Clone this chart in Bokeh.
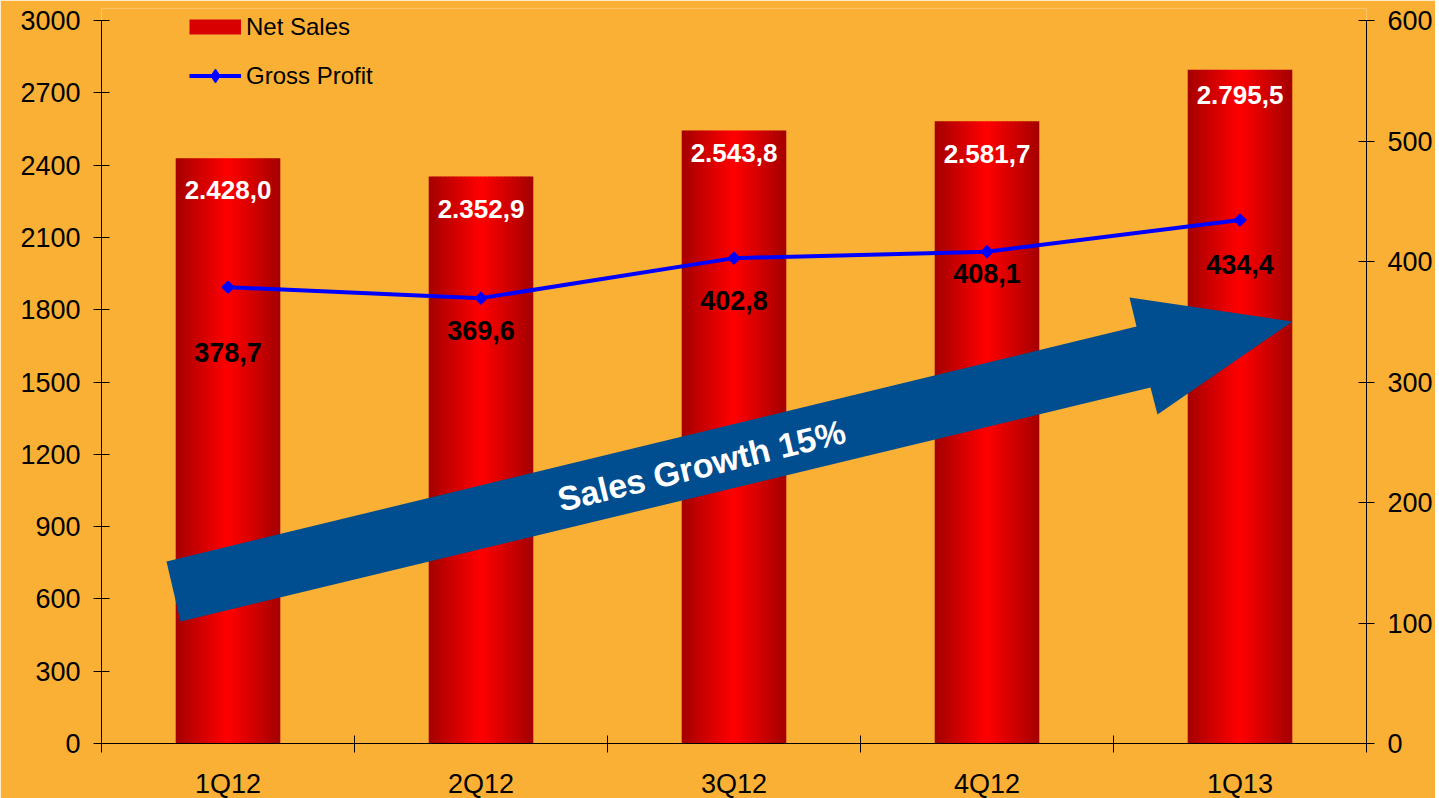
import math
from bokeh.plotting import figure
from bokeh.models import Range1d, LinearAxis, FixedTicker, ColumnDataSource, Legend, LegendItem
from bokeh.core.properties import value
from bokeh.embed import file_html
from bokeh.resources import INLINE

# ---------------- data ----------------
quarters = ["1Q12", "2Q12", "3Q12", "4Q12", "1Q13"]
net_sales = [2428.0, 2352.9, 2543.8, 2581.7, 2795.5]
gross_profit = [378.7, 369.6, 402.8, 408.1, 434.4]
left_ticks = [0, 300, 600, 900, 1200, 1500, 1800, 2100, 2400, 2700, 3000]
right_ticks = [0, 100, 200, 300, 400, 500, 600]
arrow_label = "Sales Growth 15%"

# ---------------- style ----------------
BG = "#FAB034"
FONT = "Liberation Sans"
BAR_W = 0.411
N_STRIPS = 26
ns_label_dy = [32, 33, 23, 33, 25]     # px below bar top
gp_label_dy = [65, 32, 42, 22, 44]     # px below point
FRAME_L, FRAME_T, FRAME_W = 101, 8, 1265   # page px
AXIS_BOTTOM, AXIS_H = 743, 723              # px for the 0..3000 span
FRAME_H = AXIS_BOTTOM - FRAME_T
LEFT_MAX, RIGHT_MAX = 3000.0, 600.0


def fmt(v):
    s = f"{v:,.1f}"
    return s.replace(",", "X").replace(".", ",").replace("X", ".")


def page_to_data(px, py):
    return (-0.5 + (px - FRAME_L) / FRAME_W * 5.0,
            (AXIS_BOTTOM - py) / AXIS_H * LEFT_MAX)


def strip_color(t):
    r = int(round(255 - (255 - 165) * t))
    return "#%02x0000" % r


p = figure(x_range=Range1d(-0.5, 4.5), y_range=Range1d(0, LEFT_MAX * FRAME_H / AXIS_H),
           frame_width=FRAME_W, frame_height=FRAME_H,
           min_border_left=FRAME_L, min_border_right=65, min_border_top=FRAME_T, min_border_bottom=54,
           output_backend="svg", toolbar_location=None,
           background_fill_color=BG, border_fill_color=BG, outline_line_color=None)
p.xgrid.visible = False
p.ygrid.visible = False

# ---------------- bars (gradient strips) ----------------
sw = BAR_W / N_STRIPS
bx, btop, bcol = [], [], []
for i, v in enumerate(net_sales):
    for k in range(N_STRIPS):
        off = -BAR_W / 2 + (k + 0.5) * sw
        t = abs(off) / (BAR_W / 2)
        bx.append(i + off)
        btop.append(v)
        bcol.append(strip_color(t))
bars = p.vbar(x="x", top="top", bottom=0, width=sw * 1.15, fill_color="c", line_color=None,
              source=ColumnDataSource(dict(x=bx, top=btop, c=bcol)))
# legend-only proxies (placed outside the visible range)
legend_bar = p.line(x=[-10, -9], y=[1, 1], line_width=15, line_color="#D80000", line_cap="butt")
legend_dia = p.scatter(x=[-10], y=[1], marker="diamond", size=15, fill_color="#0000FF",
                       line_color="#0000FF")

# ---------------- arrow ----------------
arrow_px = [(166, 561), (1136, 326), (1129, 297), (1292, 321), (1157, 414), (1150, 387), (180, 621)]
ax, ay = zip(*[page_to_data(*pt) for pt in arrow_px])
p.patch(list(ax), list(ay), fill_color="#004E8F", line_color=None)
tx, ty = page_to_data(701, 465)
p.text(x=[tx], y=[ty], text=[arrow_label], angle=math.atan2(235, 970),
       text_color="white", text_font=value(FONT), text_font_style="bold",
       text_font_size="34px", text_align="center", text_baseline="middle")

# ---------------- gross profit line ----------------
p.extra_y_ranges = {"right": Range1d(0, RIGHT_MAX * FRAME_H / AXIS_H)}
xs = list(range(len(quarters)))
gl = p.line(xs, gross_profit, y_range_name="right", line_color="#0000FF", line_width=4)
gm = p.scatter(xs, gross_profit, y_range_name="right", marker="square", angle=math.pi / 4,
               size=9, fill_color="#0000FF", line_color="#0000FF")

# ---------------- value labels ----------------
p.text(x=xs, y=net_sales, text=[fmt(v) for v in net_sales], y_offset=ns_label_dy,
       text_color="white", text_font=value(FONT), text_font_style="bold",
       text_font_size="26px", text_align="center", text_baseline="middle")
p.text(x=xs, y=gross_profit, y_range_name="right", text=[fmt(v) for v in gross_profit],
       y_offset=gp_label_dy, text_color="black", text_font=value(FONT), text_font_style="bold",
       text_font_size="27px", text_align="center", text_baseline="middle")

# ---------------- axes ----------------
xa = p.xaxis[0]
xa.ticker = FixedTicker(ticks=xs, minor_ticks=[i - 0.5 for i in range(len(quarters) + 1)])
xa.major_label_overrides = {i: q for i, q in enumerate(quarters)}
xa.major_tick_line_color = None
xa.major_tick_in = 0
xa.major_tick_out = 0
xa.minor_tick_in = 8
xa.minor_tick_out = 9
xa.minor_tick_line_color = "black"
xa.axis_line_color = "black"
xa.major_label_standoff = 16
xa.major_label_text_font = FONT
xa.major_label_text_font_size = "27px"
xa.major_label_text_color = "black"

ya = p.yaxis[0]
ya.ticker = FixedTicker(ticks=left_ticks)
ya.major_label_overrides = {t: str(t) for t in left_ticks}
ya.bounds = (0, LEFT_MAX)

ra = LinearAxis(y_range_name="right", ticker=FixedTicker(ticks=right_ticks), bounds=(0, RIGHT_MAX))
ra.major_label_overrides = {t: str(t) for t in right_ticks}
p.add_layout(ra, "right")
for a in (ya, ra):
    a.axis_line_color = "black"
    a.major_tick_line_color = "black"
    a.major_tick_in = 8
    a.major_tick_out = 8
    a.minor_tick_line_color = None
    a.major_label_standoff = 13
    a.major_label_text_font = FONT
    a.major_label_text_font_size = "27px"
    a.major_label_text_color = "black"

# ---------------- legend ----------------
legend = Legend(items=[LegendItem(label="Net Sales", renderers=[legend_bar]),
                       LegendItem(label="Gross Profit", renderers=[gl, legend_dia])],
                location=(88, 650), padding=0, margin=0, spacing=14,
                glyph_width=52, glyph_height=35, label_height=28, label_standoff=5,
                label_text_font=FONT, label_text_font_size="24px", label_text_color="black",
                background_fill_alpha=0, border_line_color=None)
p.add_layout(legend)

html = file_html(p, INLINE)
html = html.replace("<body>", '<body style="background-color:%s;">' % BG, 1)
open("out.html", "w").write(html)
